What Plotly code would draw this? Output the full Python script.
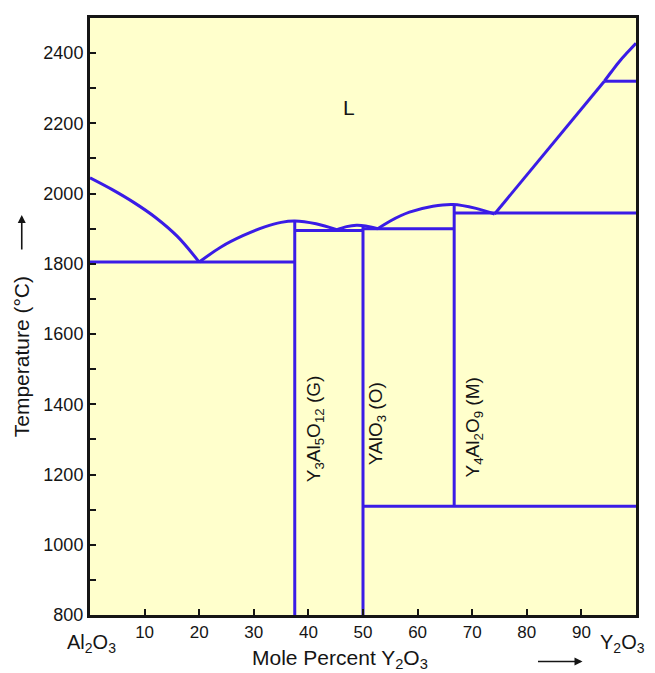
import plotly.graph_objects as go

# --- Liquidus curves (mole % Y2O3, temperature °C) ---
liq_al_x = [0, 4, 8, 12, 16, 20]
liq_al_t = [2045, 2012, 1975, 1932, 1878, 1805]

liq_g_x = [20, 24, 28, 32, 35, 37.5, 41.4, 45.2]
liq_g_t = [1805, 1848, 1880, 1905, 1918, 1922, 1914, 1897]

liq_o_x = [45.2, 47, 48.8, 50.5, 52.7]
liq_o_t = [1897, 1906, 1910, 1908, 1900]

liq_m_x = [52.7, 55, 58.5, 62.8, 66.5, 70.7, 74.1]
liq_m_t = [1900, 1922, 1947, 1964, 1969, 1958, 1942]

liq_y_x = [74.1, 94.2]
liq_y_t = [1942, 2320]

liq_top_x = [94.2, 95.5, 97, 98.5, 100]
liq_top_t = [2320, 2347, 2377, 2403, 2428]

# --- Invariant (horizontal) and compound (vertical) lines ---
seg_x0 = [0, 37.5, 50, 66.7, 94.2, 50, 37.5, 50, 66.7]
seg_x1 = [37.5, 50, 66.7, 100, 100, 100, 37.5, 50, 66.7]
seg_t0 = [1805, 1895, 1900, 1945, 2320, 1110, 800, 800, 1110]
seg_t1 = [1805, 1895, 1900, 1945, 2320, 1110, 1922, 1909, 1969]

# --- Labels ---
phase_labels = ["Y<sub>3</sub>Al<sub>5</sub>O<sub>12</sub> (G)", "YAlO<sub>3</sub> (O)", "Y<sub>4</sub>Al<sub>2</sub>O<sub>9</sub> (M)"]
phase_x = [41.1, 52.5, 70.4]
phase_t = [1330, 1345, 1335]

x_ticks = [10, 20, 30, 40, 50, 60, 70, 80, 90]
y_ticks = [800, 1000, 1200, 1400, 1600, 1800, 2000, 2200, 2400]
y_minor = [900, 1100, 1300, 1500, 1700, 1900, 2100, 2300]

LINE = "#3A1CE6"
FONT = "Liberation Sans, Arial, sans-serif"
TXT = "#151515"

fig = go.Figure()

for xs, ts, shp in [(liq_al_x, liq_al_t, "spline"), (liq_g_x, liq_g_t, "spline"),
                    (liq_o_x, liq_o_t, "spline"), (liq_m_x, liq_m_t, "spline"),
                    (liq_y_x, liq_y_t, "linear"), (liq_top_x, liq_top_t, "spline")]:
    fig.add_trace(go.Scatter(x=xs, y=ts, mode="lines",
                             line=dict(color=LINE, width=3, shape=shp),
                             showlegend=False, hoverinfo="skip"))

for x0, x1, t0, t1 in zip(seg_x0, seg_x1, seg_t0, seg_t1):
    fig.add_trace(go.Scatter(x=[x0, x1], y=[t0, t1], mode="lines",
                             line=dict(color=LINE, width=3),
                             showlegend=False, hoverinfo="skip"))

annotations = []
annotations.append(dict(x=47.5, y=2245, xref="x", yref="y", text="L", showarrow=False,
                        xanchor="center", yanchor="middle",
                        font=dict(size=21, color=TXT, family=FONT)))
for lab, px, pt in zip(phase_labels, phase_x, phase_t):
    annotations.append(dict(x=px, y=pt, xref="x", yref="y", text=lab, showarrow=False,
                            xanchor="center", yanchor="middle",
                            textangle=-90, font=dict(size=19, color=TXT, family=FONT)))

# axis titles, arrows and end labels (paper coords; plot area is 546 x 600 px)
annotations += [
    dict(x=-0.125, y=0.433, xref="paper", yref="paper", text="Temperature (°C)",
         xanchor="center", yanchor="middle",
         textangle=-90, showarrow=False, font=dict(size=21, color=TXT, family=FONT)),
    dict(x=-0.125, y=0.67, xref="paper", yref="paper", text="", showarrow=True,
         ax=0, ay=36, arrowhead=2, arrowsize=1, arrowwidth=1.6, arrowcolor=TXT),
    dict(x=0.458, y=-0.073, xref="paper", yref="paper",
         text="Mole Percent Y<sub>2</sub>O<sub>3</sub>", showarrow=False,
         xanchor="center", yanchor="middle",
         font=dict(size=21, color=TXT, family=FONT)),
    dict(x=0.902, y=-0.078, xref="paper", yref="paper", text="", showarrow=True,
         ax=-46, ay=0, arrowhead=2, arrowsize=1, arrowwidth=1.6, arrowcolor=TXT),
    dict(x=0.003, y=-0.048, xref="paper", yref="paper",
         text="Al<sub>2</sub>O<sub>3</sub>", showarrow=False,
         xanchor="center", yanchor="middle",
         font=dict(size=20, color=TXT, family=FONT)),
    dict(x=0.976, y=-0.048, xref="paper", yref="paper",
         text="Y<sub>2</sub>O<sub>3</sub>", showarrow=False,
         xanchor="center", yanchor="middle",
         font=dict(size=20, color=TXT, family=FONT)),
]

fig.update_layout(
    width=647, height=665,
    margin=dict(l=82, r=19, t=7, b=58),
    paper_bgcolor="white",
    plot_bgcolor="#FFFFCC",
    annotations=annotations,
    font=dict(family=FONT, size=17, color=TXT),
    xaxis=dict(range=[0, 100], tickvals=x_ticks, ticks="inside", ticklen=6, tickwidth=2,
               tickcolor=TXT, showgrid=False, zeroline=False, showline=True,
               linecolor=TXT, linewidth=3, mirror=True,
               tickfont=dict(size=17, family=FONT, color=TXT)),
    yaxis=dict(range=[800, 2500], tickvals=y_ticks, ticks="inside", ticklen=6, tickwidth=2,
               tickcolor=TXT, showgrid=False, zeroline=False, showline=True,
               linecolor=TXT, linewidth=3, mirror=True,
               minor=dict(tickvals=y_minor, ticks="inside", ticklen=6, tickwidth=2,
                          tickcolor=TXT, showgrid=False),
               tickfont=dict(size=18, family=FONT, color=TXT)),
)

fig.write_html("out.html")
